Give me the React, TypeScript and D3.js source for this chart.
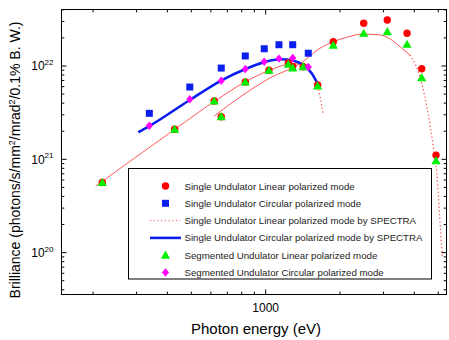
import React from "react";
import * as d3 from "d3";

// ---- data ----
const linEnergy = [218, 428, 619, 661, 827, 1031, 1235, 1287, 1420, 1624, 1879, 2495, 3109, 3737, 4287, 4898];
const singleLinear = [5.64e20, 2.1e21, 4.21e21, 2.86e21, 6.74e21, 9.0e21, 1.08e22, 9.9e21, 9.83e21, 6.25e21, 1.82e22, 2.87e22, 3.11e22, 2.24e22, 9.35e21, 1.11e21];
const segLinear = [5.64e20, 2.1e21, 4.21e21, 2.86e21, 6.74e21, 8.99e21, 1.04e22, 9.52e21, 9.83e21, 6.1e21, 1.67e22, 2.24e22, 2.33e22, 1.71e22, 7.49e21, 9.66e20];

const circEnergy = [338, 493, 661, 827, 987, 1132, 1287, 1488];
const singleCircular = [3.11e21, 5.95e21, 9.5e21, 1.28e22, 1.53e22, 1.69e22, 1.69e22, 1.37e22];
const segCircular = [2.29e21, 4.4e21, 6.96e21, 9.29e21, 1.11e22, 1.2e22, 1.22e22, 9.75e21];

const spCircE = [305, 338, 493, 663, 825, 987, 1143, 1294, 1420, 1536, 1619];
const spCircB = [1.95e21, 2.27e21, 4.32e21, 7.03e21, 9.22e21, 1.1e22, 1.18e22, 1.14e22, 1.025e22, 8.35e21, 6.53e21];

const spLinAE = [205, 429, 623, 825, 1031, 1231, 1377, 1512, 1628];
const spLinAB = [5.17e20, 2.1e21, 4.21e21, 6.74e21, 8.95e21, 1.04e22, 1.06e22, 9.06e21, 6.1e21];
const spLinATailE = [1628, 1670, 1712];
const spLinATailB = [6.1e21, 4.3e21, 2.98e21];

const spLinBE = [619, 787, 1041, 1377, 1660, 1879, 2129, 2486, 2905, 3240, 3501, 3843];
const spLinBB = [2.91e21, 4.65e21, 7.44e21, 1.056e22, 1.55e22, 1.82e22, 2.03e22, 2.2e22, 2.15e22, 1.9e22, 1.61e22, 1.31e22];
const spLinBTailE = [3843, 4287, 4777, 4931, 5086, 5195];
const spLinBTailB = [1.31e22, 6.52e21, 1.36e21, 7.08e20, 2.08e20, 8.69e19];

const xTickLabels = [1000];
const yTickExps = [20, 21, 22];
const legendLabels = [
  "Single Undulator Linear polarized mode",
  "Single Undulator Circular polarized mode",
  "Single Undulator Linear polarized mode by SPECTRA",
  "Single Undulator Circular polarized mode by SPECTRA",
  "Segmented Undulator Linear polarized mode",
  "Segmented Undulator Circular polarized mode",
];

const W = 449, H = 340;
const L = 61.5, R = 446.5, T = 9.5, B = 294.5;
const FONT = "'Liberation Sans', Arial, Helvetica, sans-serif";

export default function App() {
  const x = d3.scaleLog().domain([149, 5400]).range([L, R]);
  const y = d3.scaleLog().domain([3.56e19, 4.03e22]).range([B, T]);

  const line = (es: number[], bs: number[]) =>
    d3.line<number>()
      .x((_, i) => x(es[i]))
      .y((_, i) => y(bs[i]))
      .curve(d3.curveMonotoneX)(es) || "";

  const xTicks: { v: number; major: boolean }[] = [];
  for (let e = 2; e <= 3; e++) {
    for (let m = 1; m <= 9; m++) {
      const v = m * Math.pow(10, e);
      if (v >= 149 && v <= 5400) xTicks.push({ v, major: m === 1 });
    }
  }
  const yTicks: { v: number; major: boolean }[] = [];
  for (let e = 19; e <= 22; e++) {
    for (let m = 1; m <= 9; m++) {
      const v = m * Math.pow(10, e);
      if (v >= 3.56e19 && v <= 4.03e22) yTicks.push({ v, major: m === 1 });
    }
  }

  const tri = (cx: number, cy: number, s = 4.6) =>
    `M${cx},${cy - s}L${cx + s},${cy + s * 0.75}L${cx - s},${cy + s * 0.75}Z`;
  const dia = (cx: number, cy: number, s = 4.2) =>
    `M${cx},${cy - s}L${cx + s * 0.85},${cy}L${cx},${cy + s}L${cx - s * 0.85},${cy}Z`;

  const legX = 128.5, legY = 168.5, legW = 303, legH = 110.5;
  const legRow = (i: number) => 186 + i * 17.3;
  const symX = 165.5;

  return (
    <svg width={W} height={H} style={{ position: "absolute", left: 0, top: 0, background: "#fff" }} fontFamily={FONT}>
      <g fill="none">
        <path d={line(spLinAE, spLinAB)} stroke="#ff3b3b" strokeWidth={1} strokeOpacity={0.85} />
        <path d={line(spLinATailE, spLinATailB)} stroke="#ff3b3b" strokeWidth={1.2} strokeDasharray="1.2 2.5" />
        <path d={line(spLinBE, spLinBB)} stroke="#ff3b3b" strokeWidth={1} strokeOpacity={0.85} />
        <path d={line(spLinBTailE, spLinBTailB)} stroke="#ff3b3b" strokeWidth={1.2} strokeDasharray="1.2 2.5" />
        <path d={line(spCircE, spCircB)} stroke="#0a1ef0" strokeWidth={2.6} />
      </g>
      {linEnergy.map((e, i) => (
        <circle key={"r" + i} cx={x(e)} cy={y(singleLinear[i])} r={3.7} fill="#ff0000" />
      ))}
      {circEnergy.map((e, i) => (
        <rect key={"b" + i} x={x(e) - 3.5} y={y(singleCircular[i]) - 3.5} width={7} height={7} fill="#0a1ef0" />
      ))}
      {linEnergy.map((e, i) => (
        <path key={"g" + i} d={tri(x(e), y(segLinear[i]))} fill="#00ee00" />
      ))}
      {circEnergy.map((e, i) => (
        <path key={"m" + i} d={dia(x(e), y(segCircular[i]))} fill="#ff00ff" />
      ))}

      <rect x={L} y={T} width={R - L} height={B - T} fill="none" stroke="#000" strokeWidth={1} />
      {xTicks.map((t, i) => {
        const px = x(t.v);
        const len = t.major ? 5 : 2.8;
        return (
          <g key={"xt" + i} stroke="#000" strokeWidth={1}>
            <line x1={px} x2={px} y1={B} y2={B - len} />
            <line x1={px} x2={px} y1={T} y2={T + len} />
          </g>
        );
      })}
      {yTicks.map((t, i) => {
        const py = y(t.v);
        const len = t.major ? 5 : 2.8;
        return (
          <g key={"yt" + i} stroke="#000" strokeWidth={1}>
            <line x1={L} x2={L + len} y1={py} y2={py} />
            <line x1={R} x2={R - len} y1={py} y2={py} />
          </g>
        );
      })}
      {xTickLabels.map((v) => (
        <text key={"xl" + v} x={x(v)} y={312} textAnchor="middle" fontSize={12}>{v}</text>
      ))}
      {yTickExps.map((e) => (
        <text key={"yl" + e} x={53.5} y={y(Math.pow(10, e)) + 4.5} textAnchor="end" fontSize={12}>
          10<tspan dy={-5.5} fontSize={8}>{e}</tspan>
        </text>
      ))}
      <text x={256} y={334} textAnchor="middle" fontSize={15}>Photon energy (eV)</text>
      <text transform="translate(20,160) rotate(-90)" textAnchor="middle" fontSize={14}>
        Brilliance (photons/s/mm<tspan dy={-5} fontSize={9}>2</tspan>
        <tspan dy={5}>/mrad</tspan><tspan dy={-5} fontSize={9}>2</tspan>
        <tspan dy={5}>/0.1% B. W.)</tspan>
      </text>

      <rect x={legX} y={legY} width={legW} height={legH} fill="#fff" stroke="#000" strokeWidth={1} />
      <circle cx={symX} cy={legRow(0)} r={3.7} fill="#ff0000" />
      <rect x={symX - 3.5} y={legRow(1) - 3.5} width={7} height={7} fill="#0a1ef0" />
      <line x1={150} x2={180} y1={legRow(2)} y2={legRow(2)} stroke="#ff7070" strokeWidth={1.2} strokeDasharray="1.2 2.5" />
      <line x1={150} x2={181} y1={legRow(3)} y2={legRow(3)} stroke="#0a1ef0" strokeWidth={2.6} />
      <path d={tri(symX, legRow(4))} fill="#00ee00" />
      <path d={dia(symX, legRow(5))} fill="#ff00ff" />
      {legendLabels.map((s, i) => (
        <text key={"lg" + i} x={184.5} y={legRow(i) + 3.5} fontSize={9.7} fill="#222">{s}</text>
      ))}
    </svg>
  );
}
